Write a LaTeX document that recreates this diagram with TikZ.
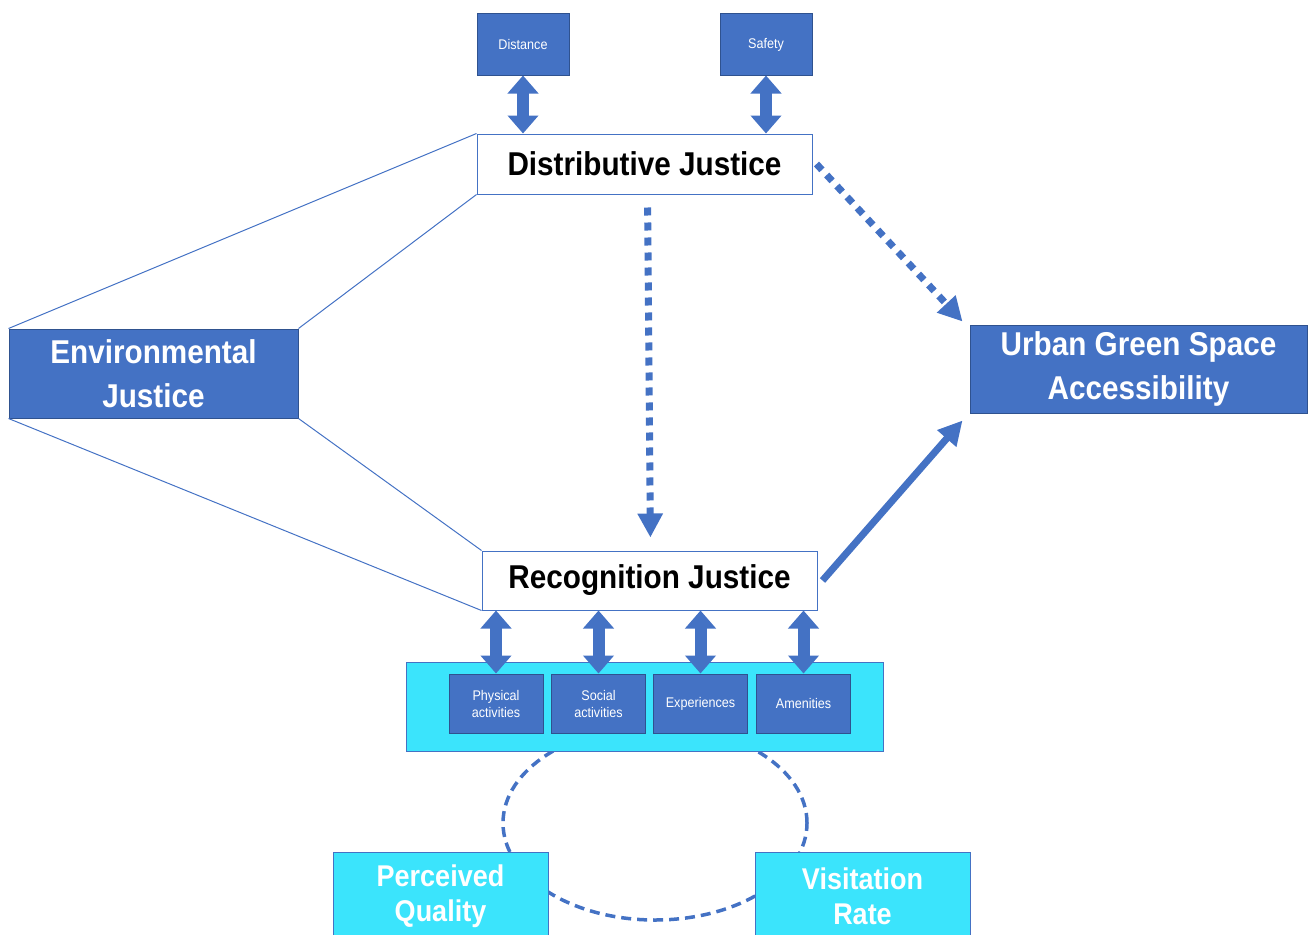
\documentclass[tikz,border=0pt]{standalone}
\usepackage{fontspec}
\setmainfont{Liberation Sans}[FakeStretch=0.9]
\usetikzlibrary{arrows.meta}
\definecolor{ublue}{HTML}{4472C4}
\definecolor{uedge}{HTML}{2F528F}
\definecolor{ucyan}{HTML}{3BE4FC}
\begin{document}
\begin{tikzpicture}[
      x=1pt,
      y=-1pt,
      bigtext/.style={font=\fontsize{33}{44}\selectfont\bfseries, align=center},
      midtext/.style={font=\fontsize{30}{35}\selectfont\bfseries, align=center, text=white},
      smalltext/.style={font=\fontsize{14}{17}\selectfont, align=center, text=white},
      bluebox/.style={draw=uedge, fill=ublue, line width=1pt, inner sep=0pt},
      whitebox/.style={draw=ublue, fill=white, line width=1pt, inner sep=0pt},
      cyanbox/.style={draw=ublue, fill=ucyan, line width=1pt, inner sep=0pt},
      thinline/.style={draw=ublue, line width=1pt},
      dblarrow/.style={draw=ublue, line width=12pt,
          {Triangle[width=30pt,length=18pt]}-{Triangle[width=30pt,length=18pt]}},
      dotarrow/.style={draw=ublue, line width=7pt, dash pattern=on 8pt off 7pt,
          -{Triangle[width=24pt,length=24pt]}},
      solidarrow/.style={draw=ublue, line width=7pt,
          -{Triangle[width=24pt,length=24pt]}}
    ]
    \useasboundingbox (0,0) rectangle (1308,934);

    % loop behind the lower boxes
    \coordinate (loop) at (655,823);
    \draw[ublue, line width=3.5pt, dash pattern=on 10pt off 6pt]
    (loop) ellipse [x radius=152pt, y radius=97pt];

    \begin{scope}[smalltext]
      \node[bluebox, minimum width=92pt, minimum height=61pt] (dist) at (523,44.5) {Distance};
      \node[bluebox, minimum width=92pt, minimum height=61pt] (safe) at (766,44.5) {Safety};
    \end{scope}

    \node[whitebox, bigtext, minimum width=335pt, minimum height=60pt] (distj) at (644.5,164) {Distributive Justice};
    \node[bluebox, bigtext, text=white, minimum width=289pt, minimum height=89pt] (envj) at (153.5,373.5) {Environmental\\Justice};
    \node[bluebox, bigtext, text=white, minimum width=337pt, minimum height=88pt] (ugs) at (1138.5,369) {Urban Green Space\\Accessibility};
    \node[whitebox, bigtext, minimum width=335pt, minimum height=59pt] (recj) at (649.5,580.5) {Recognition Justice};

    \node[cyanbox, minimum width=477pt, minimum height=89pt] (box) at (644.5,706.5) {};
    \begin{scope}[smalltext]
      \node[bluebox, minimum width=94pt, minimum height=59pt] (phys) at (496,703.5) {Physical\\activities};
      \node[bluebox, minimum width=94pt, minimum height=59pt] (soc) at (598.5,703.5) {Social\\activities};
      \node[bluebox, minimum width=94pt, minimum height=59pt] (exper) at (700.5,703.5) {Experiences};
      \node[bluebox, minimum width=94pt, minimum height=59pt] (amen) at (803.5,703.5) {Amenities};
    \end{scope}

    \node[cyanbox, midtext, minimum width=215pt, minimum height=88pt] (pq) at (440.5,896) {Perceived\\Quality};
    \node[cyanbox, midtext, minimum width=215pt, minimum height=88pt] (vr) at (862.5,896) {Visitation\\Rate};

    \draw[thinline] (envj.north west) -- (distj.north west);
    \draw[thinline] (envj.north east) -- (distj.south west);
    \draw[thinline] (envj.south west) -- (recj.south west);
    \draw[thinline] (envj.south east) -- (recj.north west);

    \draw[dblarrow] (dist.south) -- (dist.south |- distj.north);
    \draw[dblarrow] (safe.south) -- (safe.south |- distj.north);
    \foreach \n in {phys,soc,exper,amen}
    \draw[dblarrow] (\n.north |- recj.south) -- (\n.north);

    \draw[dotarrow] ([xshift=4pt]distj.east) -- ([xshift=-7pt,yshift=3pt]ugs.north west);
    \draw[dotarrow, shorten <=13pt, shorten >=13pt] ([xshift=3pt]distj.south) -- ([xshift=1pt]recj.north);
    \draw[solidarrow] ([xshift=5pt]recj.east) -- ([xshift=-7pt,yshift=-7pt]ugs.south west);
  \end{tikzpicture}
\end{document}
